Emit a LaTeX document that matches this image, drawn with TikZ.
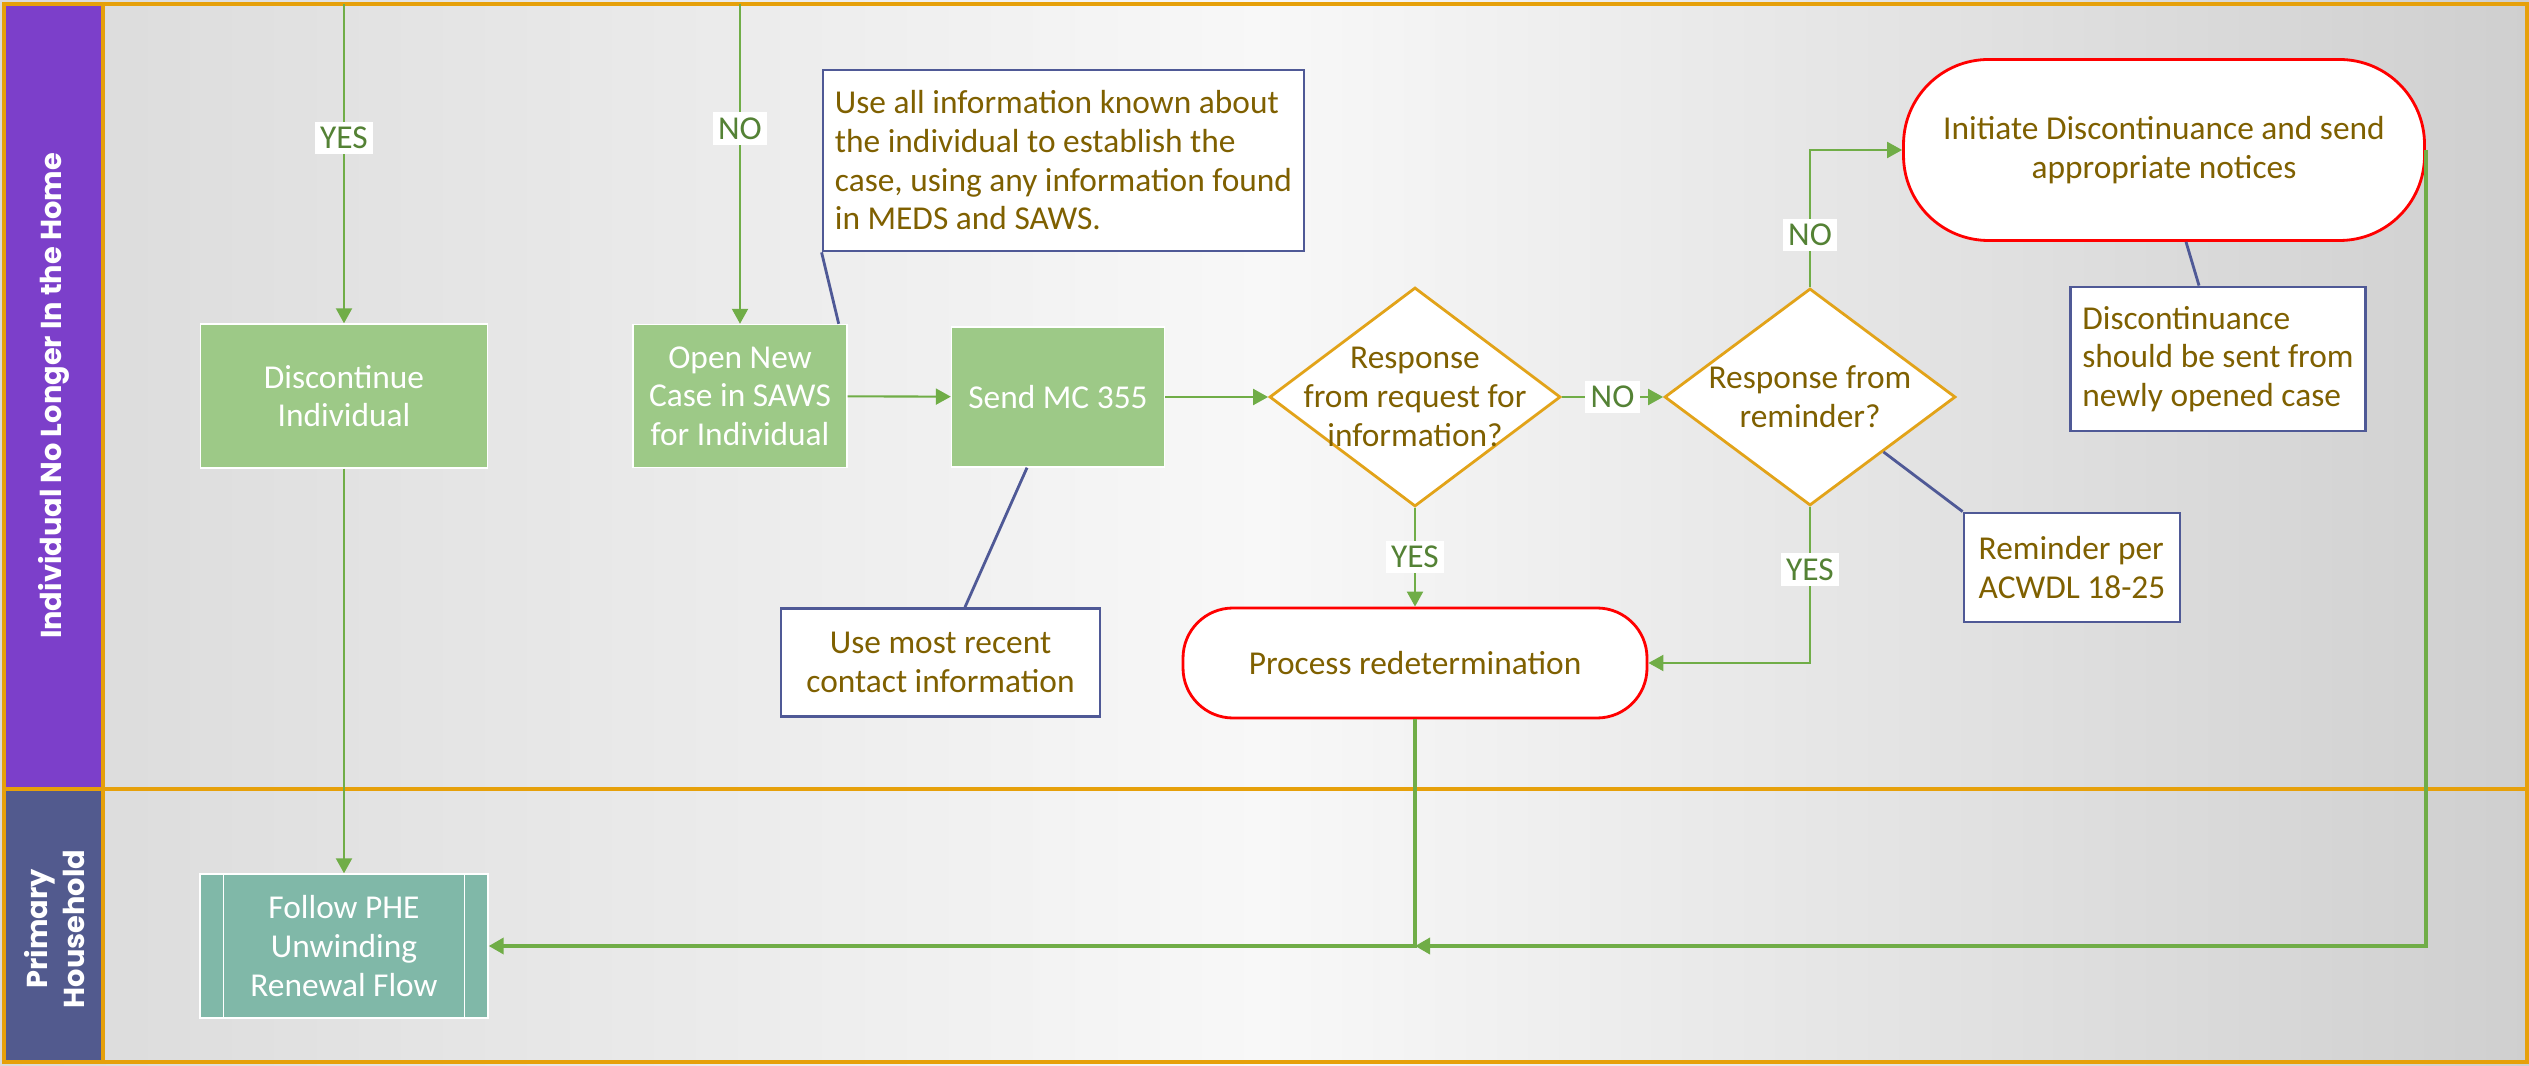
\documentclass[tikz,border=0pt]{standalone}
\usepackage{fontspec}
\setmainfont{Carlito}
\newfontfamily\lanefont{Poppins}
\usepackage{tikz}
\usetikzlibrary{arrows.meta,positioning,shapes.geometric}
\definecolor{laneorange}{RGB}{230,160,10}
\definecolor{lanepurple}{RGB}{124,63,202}
\definecolor{laneslate}{RGB}{82,90,142}
\definecolor{procgreen}{RGB}{157,201,135}
\definecolor{subteal}{RGB}{128,184,168}
\definecolor{flowgreen}{RGB}{112,173,71}
\definecolor{labelgreen}{RGB}{84,130,53}
\definecolor{notebrown}{RGB}{127,96,0}
\definecolor{decorange}{RGB}{226,163,25}
\definecolor{noteblue}{RGB}{79,89,150}
\definecolor{bgdark}{RGB}{218,218,218}
\definecolor{bglight}{RGB}{248,248,248}

\begin{document}
\begin{tikzpicture}[
font=\fontsize{9.5}{11}\selectfont,
lanetitle/.style={
text=white,
align=center,
font=\lanefont\bfseries\fontsize{8.2}{10.5}\selectfont
},
procbox/.style={
rectangle,
draw=white,
fill=procgreen,
text=white,
align=center,
inner sep=0pt
},
subproc/.style={
rectangle,
draw=white,
fill=subteal,
text=white,
align=center,
inner sep=0pt
},
decision/.style={
diamond,
draw=decorange,
line width=0.8pt,
fill=white,
inner sep=0pt
},
decisiontext/.style={
align=center,
text=notebrown
},
terminal/.style={
rectangle,
draw=red,
line width=0.8pt,
fill=white,
text=notebrown,
align=center
},
note/.style={
rectangle,
draw=noteblue,
line width=0.8pt,
fill=white,
text=notebrown,
align=left
},
flowarrow/.style={-{Triangle[length=1.5mm,width=1.6mm]},draw=flowgreen,line width=0.6pt},
flowlabel/.style={fill=white,text=labelgreen,inner sep=1.5pt},
link/.style={draw=noteblue,line width=0.8pt}
]

\useasboundingbox (0,0) rectangle (25.29,10.65);
\shade[left color=bgdark, right color=bgdark!95!black, middle color=bglight] (0,0) rectangle (25.29,10.65);
\fill[lanepurple] (0.04,2.76) rectangle (1.03,10.61);
\fill[laneslate] (0.04,0.03) rectangle (1.03,2.76);
\draw[laneorange, line width=1.2pt] (0.04,0.03) rectangle (25.27,10.61);
\draw[laneorange, line width=1.2pt] (0.04,2.76) -- (25.27,2.76);
\draw[laneorange, line width=1.2pt] (1.03,0.03) -- (1.03,10.61);

\node[lanetitle, rotate=90] (lanetop) at (0.535,6.69) {Individual No Longer In the Home};
\node[lanetitle, rotate=90] (lanebottom) at (0.545,1.36) {Primary\\Household};

\node[procbox, minimum width=2.87cm, minimum height=1.44cm] (disc) at (3.44,6.69) {Discontinue\\Individual};
\node[procbox, minimum width=2.14cm, minimum height=1.43cm] (open) at (7.40,6.69) {Open New\\Case in SAWS\\for Individual};
\node[procbox, minimum width=2.13cm, minimum height=1.40cm] (send) at (10.58,6.68) {Send MC 355};
\node[decision, minimum width=2.91cm, minimum height=2.19cm,
label={[decisiontext]center:Response\\from request for\\information?}] (resp) at (14.15,6.68) {};
\node[decision, minimum width=2.91cm, minimum height=2.17cm,
label={[decisiontext]center:Response from\\reminder?}] (remind) at (18.10,6.68) {};
\node[terminal, rounded corners=0.85cm, minimum width=5.21cm, minimum height=1.81cm] (initiate) at (21.64,9.15) {Initiate Discontinuance and send\\appropriate notices};
\node[terminal, rounded corners=0.5cm, minimum width=4.64cm, minimum height=1.10cm] (redet) at (14.15,4.02) {Process redetermination};
\node[note, minimum width=4.81cm, minimum height=1.81cm] (infonote) at (10.635,9.045) {Use all information known about\\the individual to establish the\\case, using any information found\\in MEDS and SAWS.};
\node[note, align=center, minimum width=3.19cm, minimum height=1.08cm] (contactnote) at (9.405,4.025) {Use most recent\\contact information};
\node[note, minimum width=2.93cm, minimum height=1.44cm] (discnote) at (22.18,7.06) {Discontinuance\\should be sent from\\newly opened case};
\node[note, minimum width=2.16cm, minimum height=1.09cm] (remnote) at (20.72,4.975) {Reminder per\\ACWDL 18-25};
\node[subproc, minimum width=2.88cm, minimum height=1.44cm] (follow) at (3.44,1.19) {Follow PHE\\Unwinding\\Renewal Flow};
\draw[white] ([xshift=0.24cm]follow.north west) -- ([xshift=0.24cm]follow.south west);
\draw[white] ([xshift=-0.24cm]follow.north east) -- ([xshift=-0.24cm]follow.south east);

\coordinate (yestop) at (3.44,10.61);
\coordinate (notop) at (7.40,10.61);
\coordinate (merge) at (14.15,1.19);

\draw[flowarrow] (yestop) -- node[flowlabel, pos=0.42] {YES} (disc);
\draw[flowarrow] (notop) -- node[flowlabel, pos=0.39] {NO} (open);
\draw[flowarrow] (disc) -- (follow);
\draw[flowarrow] (open) -- (send);
\draw[flowarrow] (send) -- (resp);
\draw[flowarrow] (resp) -- node[flowlabel] {NO} (remind);
\draw[flowarrow] (resp) -- node[flowlabel] {YES} (redet);
\draw[flowarrow] (remind.south) |- node[flowlabel, pos=0.2] {YES} (redet.east);
\draw[flowarrow] (remind.north) |- node[flowlabel, pos=0.19] {NO} (initiate.west);
\draw[flowarrow, line width=1pt] (initiate.east) |- (merge);
\draw[flowarrow, line width=1pt] (redet) |- (follow);

\draw[link] (infonote.south west) -- ([xshift=-0.09cm]open.north east);
\draw[link] ([xshift=0.245cm]contactnote.north) -- ([xshift=-0.31cm]send.south);
\draw[link] ([xshift=-0.19cm]discnote.north) -- ([xshift=0.22cm]initiate.south);
\draw[link] (remnote.north west) -- (remind.south east);

\end{tikzpicture}
\end{document}
